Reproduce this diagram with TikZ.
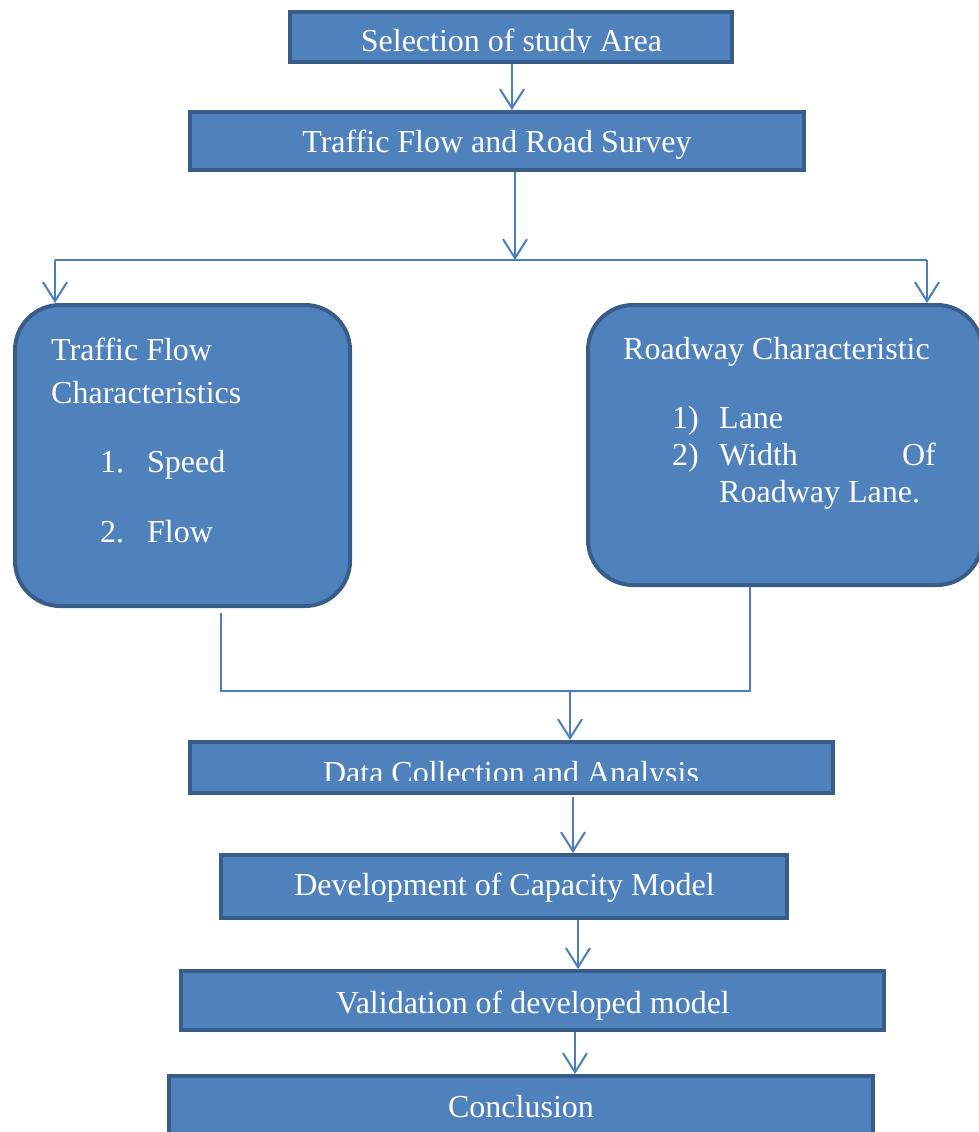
\documentclass[tikz,border=0pt]{standalone}
\usepackage{fontspec}
\setmainfont{Liberation Serif}
\usetikzlibrary{arrows.meta}

\definecolor{boxfill}{HTML}{4F81BD}
\definecolor{boxline}{HTML}{385D8A}
\definecolor{linkline}{HTML}{4A7EBB}

\tikzset{
  flowbox/.style={draw=boxline, fill=boxfill, line width=4pt, inner sep=0pt},
  roundbox/.style={flowbox, rounded corners=45pt},
  boxtext/.style={text=white, font=\fontsize{32}{38}\selectfont, inner sep=0pt, anchor=base},
  itemtext/.style={boxtext, anchor=base west},
  link/.style={draw=linkline, line width=2pt},
  arrowlink/.style={link, -{Straight Barb[length=19pt,width=24pt]}},
}

\begin{document}
\begin{tikzpicture}[x=1pt, y=-1pt]
\useasboundingbox (0,0) rectangle (979,1132);
\clip (0,0) rectangle (979,1132);

% boxes
\node[flowbox, minimum width=442pt, minimum height=50pt] (sel) at (511,37) {};
\node[flowbox, minimum width=614pt, minimum height=58pt] (survey) at (497,141) {};
\node[roundbox, minimum width=335pt, minimum height=301pt] (traffic) at (182.5,455.5) {};
\node[roundbox, minimum width=394pt, minimum height=280pt] (roadway) at (785,445) {};
\node[flowbox, minimum width=643pt, minimum height=51pt] (data) at (511.5,767.5) {};
\node[flowbox, minimum width=566pt, minimum height=63pt] (devel) at (504,886.5) {};
\node[flowbox, minimum width=703pt, minimum height=59pt] (valid) at (532.5,1000.5) {};
\node[flowbox, minimum width=704pt, minimum height=70pt] (concl) at (521,1111) {};

% texts of the boxes
\begin{scope}
\clip (290,12) rectangle (732,52.5);
\node[boxtext] (selT) at (511.5,52) {Selection of study Area};
\end{scope}
\node[boxtext] (surveyT) at (497,152) {Traffic Flow and Road Survey};
\begin{scope}
\clip (190,742) rectangle (833,780);
\node[boxtext] (dataT) at (511,783) {Data Collection and Analysis};
\end{scope}
\node[boxtext] (develT) at (504.5,895) {Development of Capacity Model};
\node[boxtext] (validT) at (533,1013) {Validation of developed model};
\node[boxtext] (conclT) at (521,1117) {Conclusion};

% traffic flow box
\node[itemtext] (trafficA) at (51,360) {Traffic Flow};
\node[itemtext] (trafficB) at (51,403) {Characteristics};
\node[itemtext] (speedN) at (100,472) {1.};
\node[itemtext] (speedT) at (147,472) {Speed};
\node[itemtext] (flowN) at (100,542) {2.};
\node[itemtext] (flowT) at (147,542) {Flow};

% roadway box
\node[itemtext] (roadwayA) at (623,359) {Roadway Characteristic};
\node[itemtext] (laneN) at (672,428) {1)};
\node[itemtext] (laneT) at (719,428) {Lane};
\node[itemtext] (widthN) at (672,465) {2)};
\node[itemtext] (widthT) at (719,465) {Width};
\node[boxtext, anchor=base east] (widthOf) at (936,465) {Of};
\node[itemtext] (widthR) at (719,502) {Roadway Lane.};

% connectors
\coordinate (selB) at ([xshift=1pt]sel.south);
\coordinate (split) at (515,260);
\coordinate (splitL) at (55,260);
\coordinate (splitR) at (927,260);
\coordinate (mergeL) at (221,691);
\coordinate (mergeR) at (750,691);
\coordinate (merge) at (570,691);

\draw[arrowlink] (selB) -- (selB |- survey.north);
\draw[arrowlink] ([xshift=18pt]survey.south) -- (split);
\draw[link] (splitL) -- (splitR);
\draw[arrowlink] (splitL) -- (splitL |- traffic.north);
\draw[arrowlink] (splitR) -- (splitR |- roadway.north);
\draw[link] ([yshift=-5pt]mergeL |- traffic.south) -- (mergeL) -- (mergeR) -- (mergeR |- roadway.south);
\draw[arrowlink] (merge) -- (merge |- data.north);
\draw[arrowlink] ([xshift=61.5pt,yshift=-2pt]data.south) -- ([xshift=69pt]devel.north);
\draw[arrowlink] ([xshift=74pt]devel.south) -- ([xshift=45.5pt]valid.north);
\draw[arrowlink] ([xshift=42.5pt]valid.south) -- ([xshift=54pt]concl.north);

\end{tikzpicture}
\end{document}
